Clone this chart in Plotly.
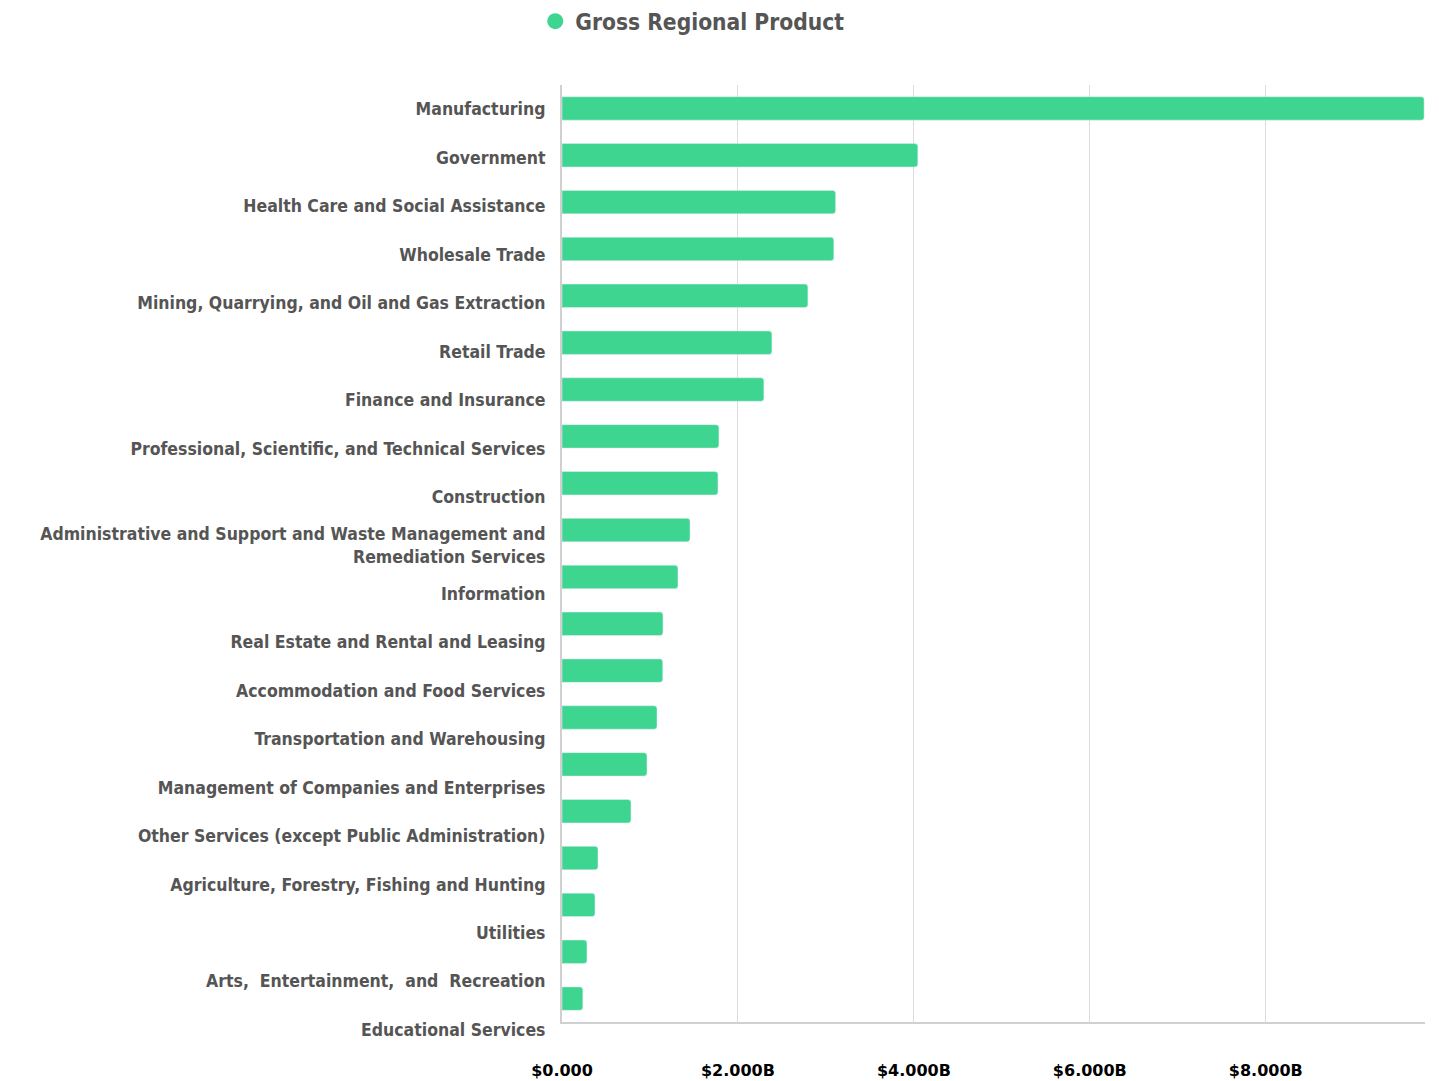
import plotly.graph_objects as go

categories = [
    "Manufacturing",
    "Government",
    "Health Care and Social Assistance",
    "Wholesale Trade",
    "Mining, Quarrying, and Oil and Gas Extraction",
    "Retail Trade",
    "Finance and Insurance",
    "Professional, Scientific, and Technical Services",
    "Construction",
    "Administrative and Support and Waste Management and<br>Remediation Services",
    "Information",
    "Real Estate and Rental and Leasing",
    "Accommodation and Food Services",
    "Transportation and Warehousing",
    "Management of Companies and Enterprises",
    "Other Services (except Public Administration)",
    "Agriculture, Forestry, Fishing and Hunting",
    "Utilities",
    "Arts,  Entertainment,  and  Recreation",
    "Educational Services",
]
# Gross Regional Product, billions of dollars
values = [9.80, 4.045, 3.11, 3.09, 2.795, 2.386, 2.295, 1.784, 1.773, 1.455,
          1.318, 1.148, 1.145, 1.08, 0.966, 0.784, 0.409, 0.375, 0.284, 0.237]
tick_vals = [0, 2, 4, 6, 8]
tick_text = ["$0.000", "$2.000B", "$4.000B", "$6.000B", "$8.000B"]
series_name = "Gross Regional Product"

GREEN = "#3ED590"
LABEL = "#555555"
FONT = "DejaVu Sans Condensed, DejaVu Sans"

n = len(categories)
cat_range = [n - 0.5, -0.5]  # reversed: first category on top

fig = go.Figure()
fig.add_trace(go.Bar(
    x=values, y=categories, orientation="h",
    xaxis="x", yaxis="y",
    marker=dict(color=GREEN),
    width=0.5, showlegend=False, name=series_name,
))
# invisible trace carrying the category labels on a separate label axis
fig.add_trace(go.Scatter(
    x=[0] * n, y=categories, mode="markers",
    xaxis="x2", yaxis="y2",
    marker=dict(color="rgba(0,0,0,0)", size=1), showlegend=False, hoverinfo="skip",
))
# legend entry with circle marker
fig.add_trace(go.Scatter(
    x=[None], y=[None], mode="markers", name=series_name,
    xaxis="x2", yaxis="y2",
    marker=dict(color=GREEN, size=19, symbol="circle"),
))

fig.update_layout(
    width=1439, height=1081,
    margin=dict(l=562, r=14, t=85, b=27, autoexpand=False),
    plot_bgcolor="rgba(0,0,0,0)", paper_bgcolor="white",
    barcornerradius=3,
    showlegend=True,
    legend=dict(
        orientation="h",
        x=-0.031, xanchor="left", y=1.0877, yanchor="top",
        font=dict(family=FONT, size=22.6, color=LABEL, weight="bold"),
        itemsizing="trace",
    ),
    xaxis=dict(
        type="linear", range=[0, 9.81], tickvals=tick_vals, ticktext=tick_text,
        showgrid=True, gridcolor="#dddddd", gridwidth=1,
        showline=True, linecolor="#d0d0d0", linewidth=2,
        zeroline=False, automargin=False, anchor="y",
        ticks="outside", ticklen=33, tickcolor="rgba(0,0,0,0)",
        tickfont=dict(family="DejaVu Sans", size=16, color="#000000", weight="bold"),
    ),
    yaxis=dict(
        type="category", domain=[0.033, 1], anchor="x",
        categoryorder="array", categoryarray=categories,
        range=cat_range, showticklabels=False, showgrid=False,
        showline=True, linecolor="#d0d0d0", linewidth=2, zeroline=False,
        automargin=False,
    ),
    xaxis2=dict(
        domain=[0, 1], anchor="y2", range=[0, 1], visible=False,
        showgrid=False, zeroline=False,
    ),
    yaxis2=dict(
        type="category", domain=[0, 1], anchor="free", position=0,
        categoryorder="array", categoryarray=categories,
        range=cat_range, showgrid=False, showline=False, zeroline=False,
        automargin=False,
        ticks="outside", ticklen=13, tickcolor="rgba(0,0,0,0)",
        tickfont=dict(family=FONT, size=17.5, color=LABEL, weight="bold"),
    ),
)

fig.write_html(
    "out.html",
    config={"displayModeBar": False},
    post_script="document.body.style.margin='0';",
)
